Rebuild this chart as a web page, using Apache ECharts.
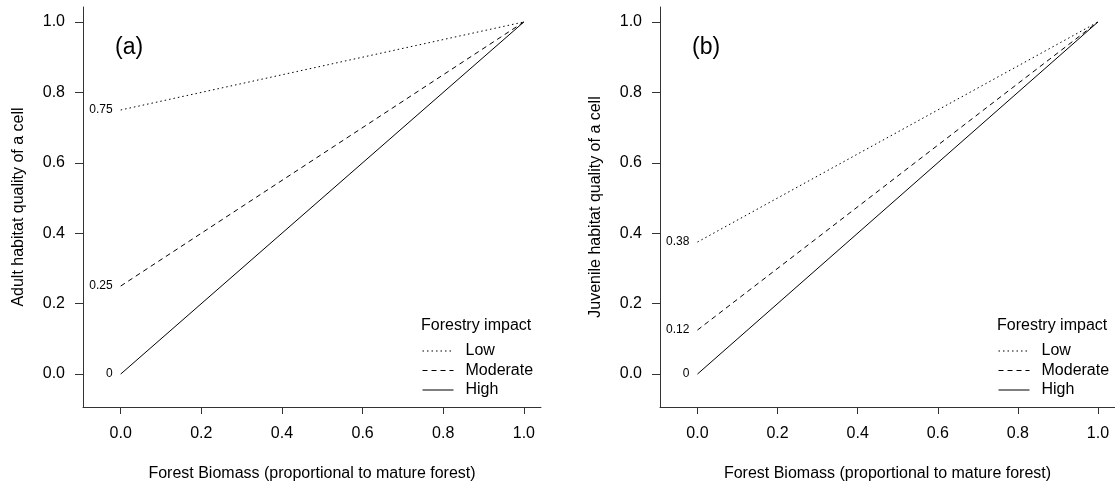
<!DOCTYPE html>
<html>
<head>
<meta charset="utf-8">
<script src="https://cdn.jsdelivr.net/npm/echarts@6/dist/echarts.min.js"></script>
<style>
html,body{margin:0;padding:0;background:#fff;}
#chart{width:1115px;height:489px;}
</style>
</head>
<body>
<div id="chart"></div>
<script>
// ---- data ----
var impactLevels = ['Low', 'Moderate', 'High'];
var biomass = [0, 1];
var adultLow = [0.75, 1];
var adultModerate = [0.25, 1];
var adultHigh = [0, 1];
var juvenileLow = [0.375, 1];
var juvenileModerate = [0.125, 1];
var juvenileHigh = [0, 1];
var adultStartLabels = ['0.75', '0.25', '0'];
var juvenileStartLabels = ['0.38', '0.12', '0'];
var tickValues = [0, 0.2, 0.4, 0.6, 0.8, 1.0];
var panelLabels = ['(a)', '(b)'];
var xTitle = 'Forest Biomass (proportional to mature forest)';
var yTitles = ['Adult habitat quality of a cell', 'Juvenile habitat quality of a cell'];
var legendTitle = 'Forestry impact';

// ---- chart ----
var FONT = '"Liberation Sans", Arial, Helvetica, sans-serif';
var FS = 16;
var AX_MIN = -0.0935, AX_MAX = 1.0425;
var dashTypes = [[1.5, 3], [5, 4], 'solid'];

function mkX(idx) {
  return {
    type: 'value', gridIndex: idx, min: AX_MIN, max: AX_MAX,
    name: xTitle, nameLocation: 'middle', nameGap: 59,
    nameTextStyle: {fontFamily: FONT, fontSize: FS, color: '#000'},
    axisLine: {show: true, onZero: false, lineStyle: {color: '#333', width: 1}},
    axisTick: {show: true, inside: false, length: 7, customValues: tickValues, lineStyle: {color: '#333'}},
    axisLabel: {show: true, customValues: tickValues, margin: 19, fontFamily: FONT, fontSize: FS, color: '#000',
      formatter: function (v) { return v.toFixed(1); }},
    splitLine: {show: false}
  };
}
function mkY(idx) {
  return {
    type: 'value', gridIndex: idx, min: AX_MIN, max: AX_MAX,
    name: yTitles[idx], nameLocation: 'middle', nameGap: 56, nameRotate: 90,
    nameTextStyle: {fontFamily: FONT, fontSize: FS, color: '#000'},
    axisLine: {show: true, onZero: false, lineStyle: {color: '#333', width: 1}},
    axisTick: {show: true, inside: false, length: 8, customValues: tickValues, lineStyle: {color: '#333'}},
    axisLabel: {show: true, customValues: tickValues, margin: 18, fontFamily: FONT, fontSize: FS, color: '#000',
      formatter: function (v) { return v.toFixed(1); }},
    splitLine: {show: false}
  };
}
function mkSeries(idx, name, ys, startLabel, dash) {
  var data = biomass.map(function (x, i) {
    var item = {value: [x, ys[i]]};
    if (i === 0) {
      item.label = {show: true, position: 'left', distance: 8, formatter: startLabel,
        fontFamily: FONT, fontSize: 12, color: '#000'};
    }
    return item;
  });
  return {
    type: 'line', name: name, xAxisIndex: idx, yAxisIndex: idx,
    data: data, symbol: 'circle', symbolSize: 0, showSymbol: true, silent: true, animation: false,
    lineStyle: {color: '#000', width: 1, type: dash},
    itemStyle: {color: '#000'},
    label: {show: false}
  };
}

var adultSets = [adultLow, adultModerate, adultHigh];
var juvSets = [juvenileLow, juvenileModerate, juvenileHigh];
var series = [];
impactLevels.forEach(function (lvl, k) {
  series.push(mkSeries(0, lvl, adultSets[k], adultStartLabels[k], dashTypes[k]));
});
impactLevels.forEach(function (lvl, k) {
  series.push(mkSeries(1, lvl, juvSets[k], juvenileStartLabels[k], dashTypes[k]));
});

function mkLegend(left) {
  return {
    orient: 'vertical', left: left, top: 343, data: impactLevels, padding: 0,
    itemWidth: 31, itemHeight: 14, itemGap: 3.5, selectedMode: false,
    itemStyle: {opacity: 0},
    lineStyle: {width: 1},
    textStyle: {fontFamily: FONT, fontSize: FS, color: '#000', padding: [0, 0, 0, 7]}
  };
}
function mkTitle(text, left, top, size) {
  return {text: text, left: left, top: top,
    textStyle: {fontFamily: FONT, fontSize: size, fontWeight: 'normal', color: '#000'}};
}

var option = {
  animation: false,
  backgroundColor: '#fff',
  grid: [
    {left: 83, top: 7, width: 458, height: 400, containLabel: false},
    {left: 660, top: 7, width: 458, height: 400, containLabel: false}
  ],
  xAxis: [mkX(0), mkX(1)],
  yAxis: [mkY(0), mkY(1)],
  legend: [mkLegend(422), mkLegend(998)],
  title: [
    mkTitle(panelLabels[0], 110, 31, 23),
    mkTitle(panelLabels[1], 687, 31, 23),
    mkTitle(legendTitle, 416, 313, FS),
    mkTitle(legendTitle, 992, 313, FS)
  ],
  series: series
};

var chart = echarts.init(document.getElementById('chart'), null, {renderer: 'canvas'});
chart.setOption(option);
</script>
</body>
</html>
